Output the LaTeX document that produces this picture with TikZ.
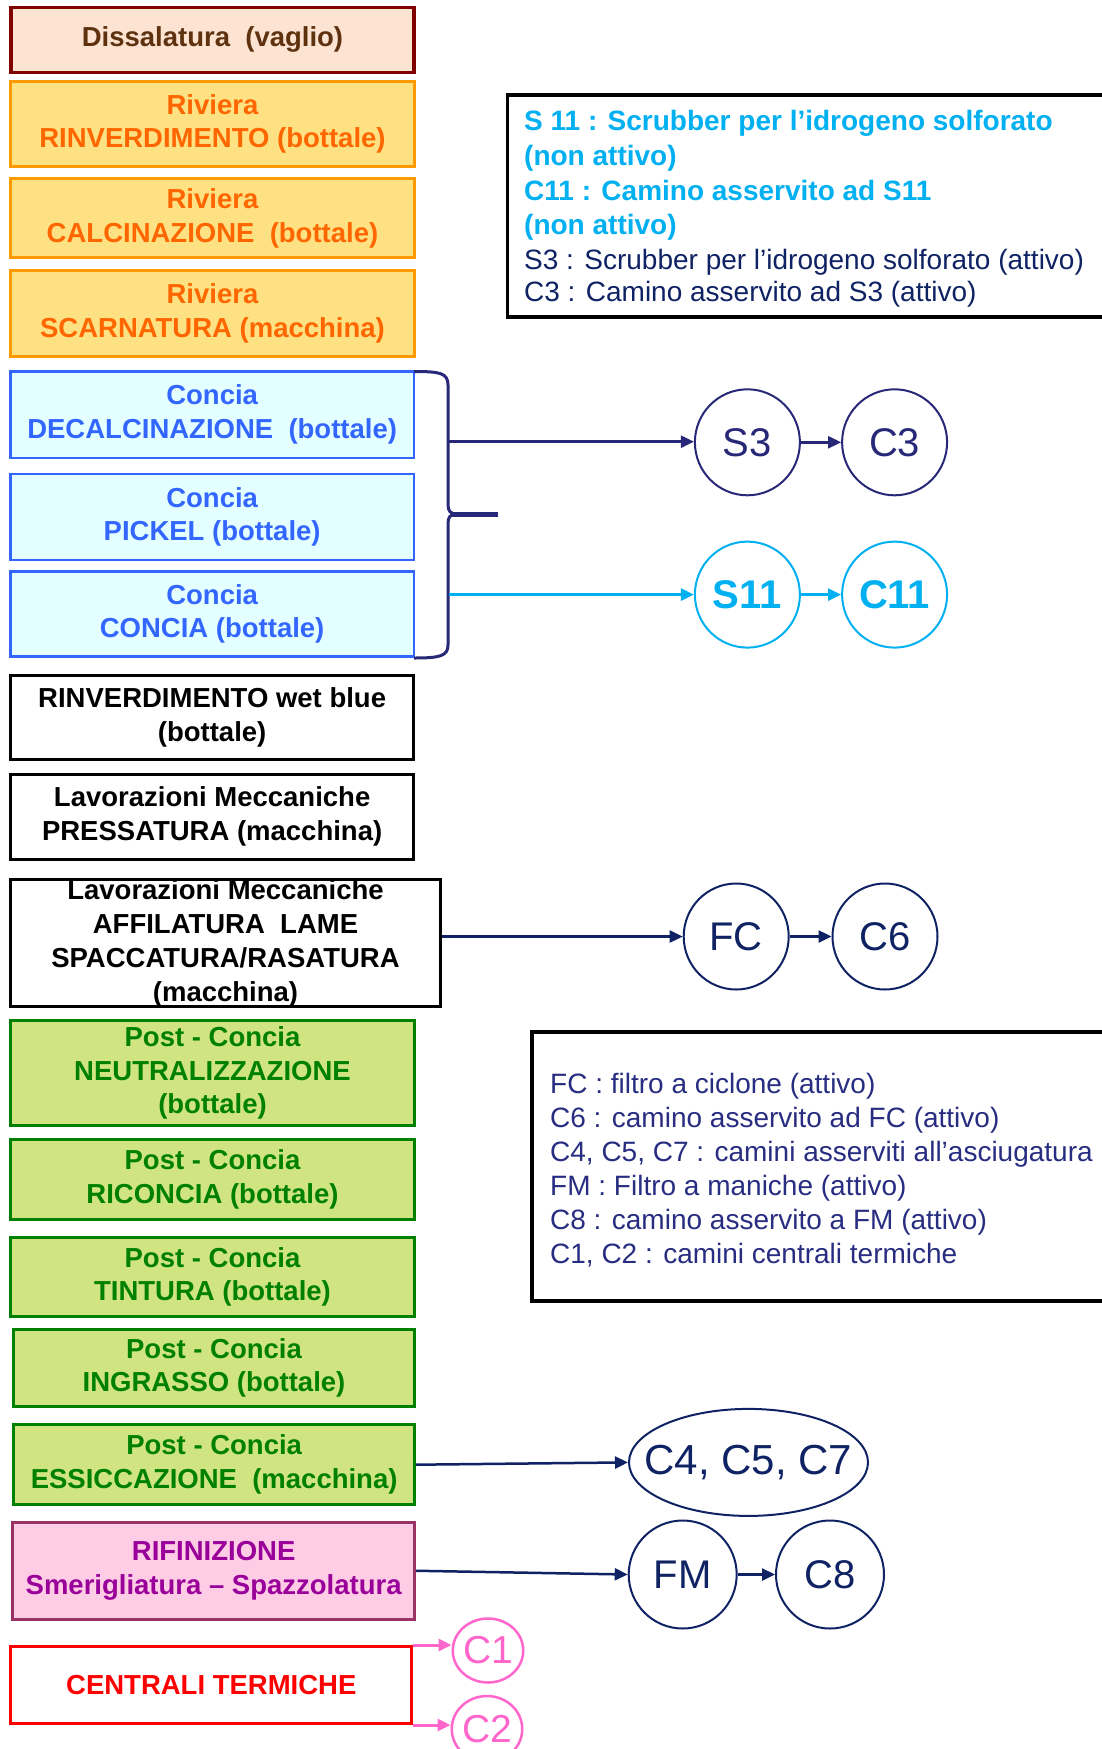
\documentclass[tikz,border=0pt]{standalone}
\usepackage{fontspec}
\setmainfont{Liberation Sans}
\usetikzlibrary{arrows.meta,shapes.geometric}
\definecolor{dissfill}{RGB}{253,228,210}
\definecolor{dissdraw}{RGB}{128,0,0}
\definecolor{disstext}{RGB}{95,50,15}
\definecolor{orfill}{RGB}{254,225,130}
\definecolor{ordraw}{RGB}{255,153,0}
\definecolor{ortext}{RGB}{255,102,0}
\definecolor{cyfill}{RGB}{228,255,255}
\definecolor{bluedraw}{RGB}{51,102,255}
\definecolor{grfill}{RGB}{208,229,130}
\definecolor{grdraw}{RGB}{0,128,0}
\definecolor{pkfill}{RGB}{255,204,230}
\definecolor{pkdraw}{RGB}{153,51,102}
\definecolor{pktext}{RGB}{153,0,153}
\definecolor{navyA}{RGB}{40,40,120}
\definecolor{navyB}{RGB}{15,35,100}
\definecolor{legnavy}{RGB}{40,45,130}
\definecolor{cyanl}{RGB}{0,176,240}
\definecolor{pinkc}{RGB}{255,102,204}
\begin{document}
\begin{tikzpicture}[x=1pt,y=-1pt,
  lbox/.style={draw, rectangle, inner sep=0pt, align=center,
    font=\fontsize{27.5}{33.8}\selectfont\bfseries},
  dissbox/.style={lbox, line width=3.5pt, draw=dissdraw, fill=dissfill, text=disstext},
  orbox/.style={lbox, line width=3pt, draw=ordraw, fill=orfill, text=ortext},
  cybox/.style={lbox, line width=2.5pt, draw=bluedraw, fill=cyfill, text=bluedraw},
  bkbox/.style={lbox, line width=3.2pt, draw=black, fill=white, text=black},
  grbox/.style={lbox, line width=3pt, draw=grdraw, fill=grfill, text=grdraw},
  pkbox/.style={lbox, line width=3pt, draw=pkdraw, fill=pkfill, text=pktext},
  rdbox/.style={lbox, line width=3pt, draw=red, fill=white, text=red},
  circ/.style={ellipse, draw, line width=2pt, inner sep=0pt,
    minimum width=105pt, minimum height=106pt, font=\fontsize{40}{48}\selectfont},
  leg/.style={anchor=base west, inner sep=0pt, font=\fontsize{28}{34}\selectfont},
  legb/.style={anchor=base west, inner sep=0pt, font=\fontsize{28}{34}\selectfont\bfseries},
  arr/.style={line width=2.5pt, -{Triangle[length=13pt,width=12pt]}},
]
\useasboundingbox (0,0) rectangle (1101,1749);
\fill[white] (0,0) rectangle (1101,1749);

% left column
\node[dissbox, minimum width=403pt, minimum height=64.8pt] (diss) at (212.5,39.85) {Dissalatura\ \ (vaglio)};
\node[orbox, minimum width=403.4pt, minimum height=84.7pt] (riv1) at (212.5,123.85) {Riviera\\RINVERDIMENTO (bottale)};
\node[orbox, minimum width=403.4pt, minimum height=79pt] (riv2) at (212.5,218) {Riviera\\CALCINAZIONE\ \ (bottale)};
\node[orbox, minimum width=403.4pt, minimum height=86pt] (riv3) at (212.5,313.2) {Riviera\\SCARNATURA (macchina)};
\node[cybox, minimum width=403.2pt, minimum height=86.5pt] (decal) at (212.15,414.5) {Concia\\DECALCINAZIONE\ \ (bottale)};
\node[cybox, minimum width=403.2pt, minimum height=85.8pt] (pickel) at (212.15,516.85) {Concia\\PICKEL (bottale)};
\node[cybox, minimum width=403.2pt, minimum height=85.2pt] (concia) at (212.15,613.85) {Concia\\CONCIA (bottale)};
\node[bkbox, minimum width=402.7pt, minimum height=84pt] (rinvwb) at (212.15,717.5) {RINVERDIMENTO wet blue\\(bottale)};
\node[bkbox, minimum width=402.7pt, minimum height=85pt] (press) at (212.15,816.7) {Lavorazioni Meccaniche\\PRESSATURA (macchina)};
\node[bkbox, minimum width=429.4pt, minimum height=127pt] (affil) at (225.5,943.3) {Lavorazioni Meccaniche\\AFFILATURA\ \ LAME\\SPACCATURA/RASATURA\\(macchina)};
\node[grbox, minimum width=403.4pt, minimum height=105pt] (neutr) at (212.5,1073) {Post - Concia\\NEUTRALIZZAZIONE\\(bottale)};
\node[grbox, minimum width=403.4pt, minimum height=80.3pt] (ricon) at (212.5,1179.35) {Post - Concia\\RICONCIA (bottale)};
\node[grbox, minimum width=403.4pt, minimum height=78.7pt] (tint) at (212.5,1276.85) {Post - Concia\\TINTURA (bottale)};
\node[grbox, minimum width=401pt, minimum height=77.3pt] (ingr) at (214,1367.85) {Post - Concia\\INGRASSO (bottale)};
\node[grbox, minimum width=400.7pt, minimum height=79.6pt] (essic) at (214.15,1464.7) {Post - Concia\\ESSICCAZIONE\ \ (macchina)};
\node[pkbox, minimum width=401.7pt, minimum height=97.5pt] (rifin) at (213.65,1570.75) {RIFINIZIONE\\Smerigliatura – Spazzolatura};
\node[rdbox, minimum width=401pt, minimum height=77pt] (centr) at (211.3,1685) {CENTRALI TERMICHE};

% brace
\draw[navyA, line width=3pt] (414,371.5) .. controls (440,371.5) and (448,373) .. (448,385) -- (448,504)
  .. controls (448,511) and (450,514) .. (457,514);
\draw[navyA, line width=3pt] (457,514) .. controls (450,514) and (448,517) .. (448,524) -- (448,645)
  .. controls (448,656) and (440,658) .. (414,658);
\draw[navyA, line width=5pt] (452,514) -- (498,514);

% legend 1
\draw[line width=3.5pt] (507.5,95) rectangle (1120,317);
\node[legb, text=cyanl] (l1a) at (524,130) {S 11 : Scrubber per l’idrogeno solforato};
\node[legb, text=cyanl] (l1b) at (524,165) {(non attivo)};
\node[legb, text=cyanl] (l1c) at (524,200.5) {C11 : Camino asservito ad S11};
\node[legb, text=cyanl] (l1d) at (524,234) {(non attivo)};
\node[leg, text=navyB] (l1e) at (524,269) {S3 : Scrubber per l’idrogeno solforato (attivo)};
\node[leg, text=navyB] (l1f) at (524,301.5) {C3 : Camino asservito ad S3 (attivo)};

% legend 2
\draw[line width=3.5pt] (532,1032) rectangle (1120,1301);
\node[leg, text=legnavy] (l2a) at (550,1093) {FC : filtro a ciclone (attivo)};
\node[leg, text=legnavy] (l2b) at (550,1127.5) {C6 : camino asservito ad FC (attivo)};
\node[leg, text=legnavy] (l2c) at (550,1161) {C4, C5, C7 : camini asserviti all’asciugatura};
\node[leg, text=legnavy] (l2d) at (550,1195.5) {FM : Filtro a maniche (attivo)};
\node[leg, text=legnavy] (l2e) at (550,1229) {C8 : camino asservito a FM (attivo)};
\node[leg, text=legnavy] (l2f) at (550,1263) {C1, C2 : camini centrali termiche};

% circles
\node[circ, draw=navyA, text=navyA] (s3) at (747.4,442.3) {S3};
\node[circ, draw=navyA, text=navyA] (c3) at (894.6,442.3) {C3};
\node[circ, draw=cyanl, text=cyanl, font=\fontsize{40}{48}\selectfont\bfseries] (s11) at (747.4,594.6) {S11};
\node[circ, draw=cyanl, text=cyanl, font=\fontsize{40}{48}\selectfont\bfseries] (c11) at (894.6,594.6) {C11};
\node[circ, draw=navyB, text=navyB] (fc) at (736.2,936.5) {FC};
\node[circ, draw=navyB, text=navyB] (c6) at (885,936.5) {C6};
\node[circ, draw=navyB, text=navyB, inner xsep=-22pt, minimum width=239pt, minimum height=107pt, font=\fontsize{42}{50}\selectfont] (c457) at (748.5,1462.4) {C4, C5, C7};
\node[circ, draw=navyB, text=navyB, minimum width=108pt, minimum height=108pt] (fm) at (682.7,1574.5) {FM};
\node[circ, draw=navyB, text=navyB, minimum width=108pt, minimum height=108pt] (c8) at (830,1574.5) {C8};
\node[circ, draw=pinkc, text=pinkc, line width=2.5pt, minimum width=65pt, minimum height=64pt, font=\fontsize{39}{44}\selectfont] (c1) at (488,1650.5) {C1};
\node[circ, draw=pinkc, text=pinkc, line width=2.5pt, minimum width=66pt, minimum height=66pt, font=\fontsize{39}{44}\selectfont] (c2) at (487,1729) {C2};

% connectors
\coordinate (b1) at (449,441.7);
\coordinate (b2) at (449,594.6);
\draw[arr, navyA] (b1) -- (b1 -| s3.west);
\draw[arr, navyA] (s3) -- (c3);
\draw[arr, cyanl, line width=2.8pt] (b2) -- (b2 -| s11.west);
\draw[arr, cyanl, line width=2.8pt] (s11) -- (c11);
\draw[arr, navyB] (affil.east |- fc.west) -- (fc.west);
\draw[arr, navyB] (fc) -- (c6);
\draw[arr, navyB] (essic.east) -- (c457.west);
\draw[arr, navyB] (rifin.east) -- (fm.west);
\draw[arr, navyB] (fm) -- (c8);
\draw[arr, pinkc, line width=3pt] (centr.north east) -- (centr.north east -| c1.west);
\draw[arr, pinkc, line width=3pt] (centr.south east) -- (centr.south east -| c2.west);
\end{tikzpicture}
\end{document}
